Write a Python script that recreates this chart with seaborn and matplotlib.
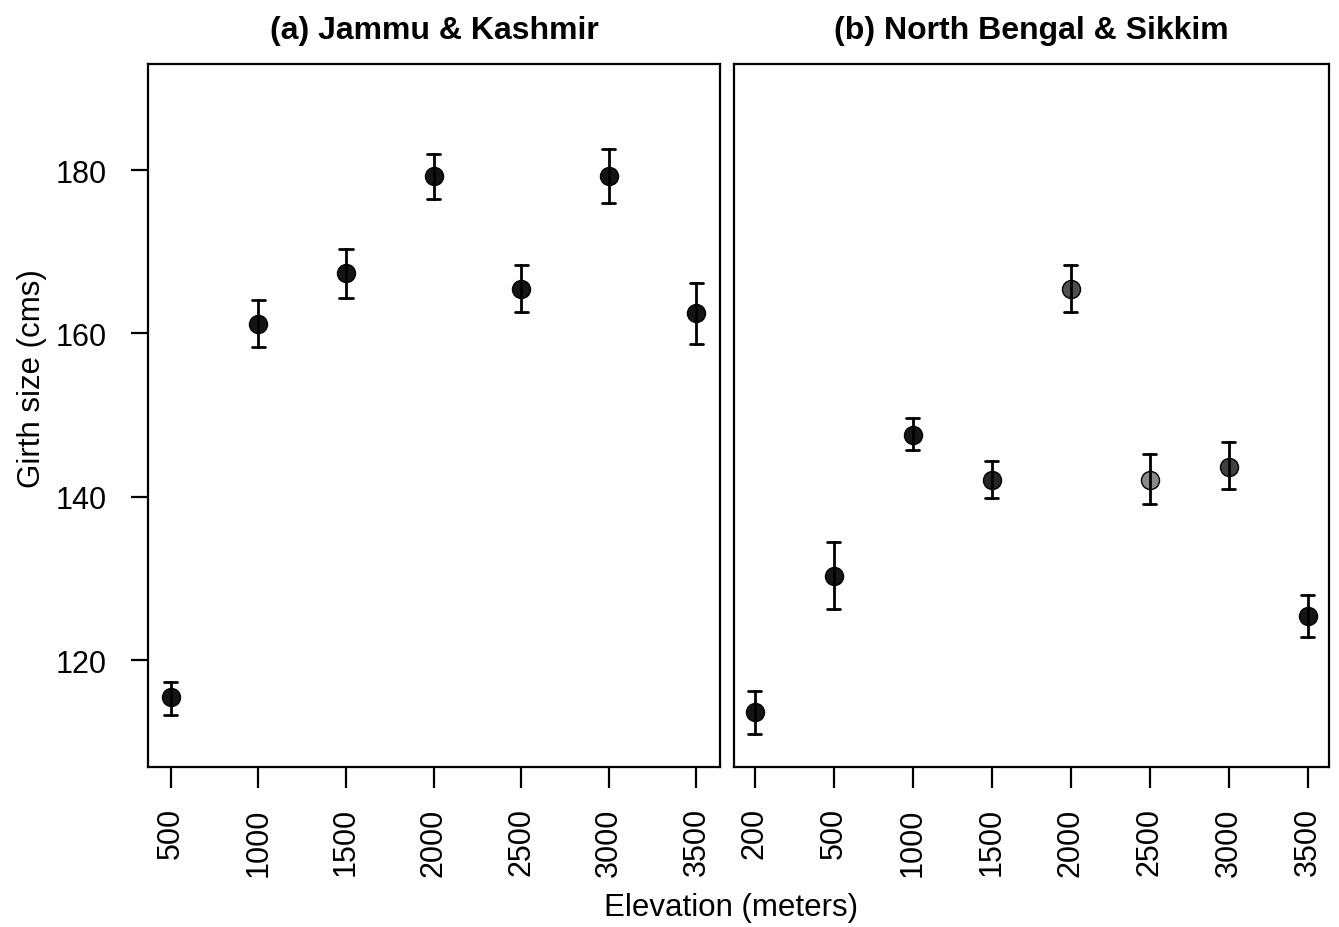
import numpy as np
import pandas as pd
import matplotlib
matplotlib.use("Agg")
import matplotlib.pyplot as plt
import seaborn as sns

# Elevation classes (m) for each region
jk_elev = ["500", "1000", "1500", "2000", "2500", "3000", "3500"]
nb_elev = ["200", "500", "1000", "1500", "2000", "2500", "3000", "3500"]

# Mean girth (cm) with lower / upper error limits
jk_mean = [115.5, 161.2, 167.4, 179.3, 165.5, 179.3, 162.5]
jk_low = [113.3, 158.4, 164.4, 176.5, 162.6, 176.0, 158.7]
jk_high = [117.3, 164.1, 170.3, 182.0, 168.4, 182.6, 166.2]

nb_mean = [113.6, 130.3, 147.6, 142.1, 165.5, 142.1, 143.7, 125.4]
nb_low = [110.9, 126.2, 145.7, 139.8, 162.6, 139.1, 140.9, 122.8]
nb_high = [116.2, 134.4, 149.7, 144.4, 168.4, 145.2, 146.7, 128.0]

# Marker fill shades
jk_fill = ["#141414"] * 7
nb_fill = ["#141414", "#161616", "#161616", "#262626", "#505050", "#8a8a8a", "#404040", "#161616"]

y_ticks = [120, 140, 160, 180]
y_range = (106.9, 193.0)


def long_form(cats, low, mean, high):
    rows = []
    for c, lo, m, hi in zip(cats, low, mean, high):
        for v in (lo, m, hi):
            rows.append({"elev": c, "girth": v})
    return pd.DataFrame(rows)


sns.set_style("white")
plt.rcParams["font.family"] = ["Liberation Sans", "DejaVu Sans"]
plt.rcParams.update({"text.color": "black", "axes.labelcolor": "black",
                     "xtick.color": "black", "ytick.color": "black"})

W, H = 1339, 928
fig = plt.figure(figsize=(W / 100, H / 100), dpi=100)

bottom = 1 - 768 / H
height = (768 - 65) / H
ax1 = fig.add_axes([148 / W, bottom, 572 / W, height])
ax2 = fig.add_axes([734 / W, bottom, 595 / W, height])

panels = [
    (ax1, jk_elev, jk_low, jk_mean, jk_high, jk_fill, "(a) Jammu & Kashmir", 0.15),
    (ax2, nb_elev, nb_low, nb_mean, nb_high, nb_fill, "(b) North Bengal & Sikkim", 0.165),
]

for ax, cats, lo, m, hi, fills, title, cap in panels:
    df = long_form(cats, lo, m, hi)
    sns.pointplot(
        data=df, x="elev", y="girth", hue="elev", order=cats, hue_order=cats,
        palette=dict(zip(cats, fills)), estimator="median", errorbar=("pi", 100),
        linestyle="none", markers="o", capsize=cap, ax=ax, legend=False,
        linewidth=1.6, markersize=13, markeredgecolor="black", markeredgewidth=1.0,
        err_kws={"color": "black", "linewidth": 2.0},
    )
    n = len(cats)
    ax.set_xlim(-0.26, n - 1 + 0.27)
    ax.set_ylim(*y_range)
    ax.set_xlabel("")
    ax.set_ylabel("")
    ax.set_title(title, fontsize=23, fontweight="bold", pad=19, color="black")
    for s in ax.spines.values():
        s.set_visible(True)
        s.set_color("black")
        s.set_linewidth(1.6)
    ax.tick_params(axis="x", direction="out", length=15, width=1.6, pad=14,
                   labelsize=22, labelrotation=90, bottom=True, color="black",
                   labelcolor="black")

ax1.set_yticks(y_ticks)
ax1.tick_params(axis="y", direction="out", length=12, width=1.6, pad=18,
                labelsize=22, left=True, color="black", labelcolor="black")
ax2.set_yticks([])

fig.text(0.546, 0.022, "Elevation (meters)", fontsize=22.5, ha="center", va="center")
fig.text(0.024, 0.592, "Girth size (cms)", fontsize=22.5, ha="center", va="center",
         rotation=90)

fig.savefig("out.png", dpi=100, facecolor="white")
